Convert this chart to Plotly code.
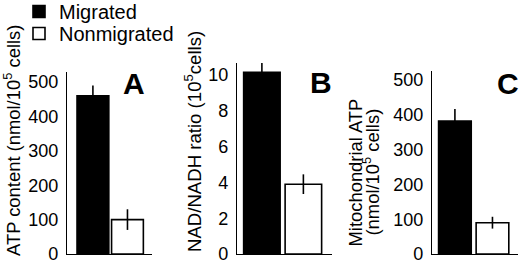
import plotly.graph_objects as go

W, H = 520, 268
OFF = 8            # figure is drawn OFF px taller and shifted up by OFF px on the page
HF = H + OFF

groups = ["Migrated", "Nonmigrated"]

# Panel A: ATP content (nmol/10^5 cells)
atp_values = [460, 100]
atp_errors = [30, 30]
# Panel B: NAD/NADH ratio
nad_values = [10.15, 3.9]
nad_errors = [0.55, 0.55]
# Panel C: Mitochondrial ATP (nmol/10^5 cells)
mito_values = [382, 90]
mito_errors = [35, 17]

atp_ticks = [0, 100, 200, 300, 400, 500]
nad_ticks = [0, 2, 4, 6, 8, 10]
mito_ticks = [0, 100, 200, 300, 400, 500]

FONT = "Liberation Sans, Arial, Helvetica, sans-serif"
fills = {"Migrated": "black", "Nonmigrated": "white"}
legend_ids = {"Migrated": "legend", "Nonmigrated": "legend2"}

def px_x(p):
    return p / W

def px_y(p):
    return 1 - (p + OFF) / HF

panels = [
    # values, errors, ticks, yrange top, x domain px, y domain px(top,bottom), xrange, barwidth
    (atp_values, atp_errors, atp_ticks, 529, (67, 152), (72, 254), [-0.75, 1.71], 0.92),
    (nad_values, nad_errors, nad_ticks, 10.67, (237, 332), (63, 254), [-0.60, 1.69], 0.88),
    (mito_values, mito_errors, mito_ticks, 526, (432, 518), (71, 254), [-0.61, 1.68], 0.87),
]

fig = go.Figure()
layout_axes = {}
for i, (vals, errs, ticks, ytop, xd, yd, xr, bw) in enumerate(panels):
    n = "" if i == 0 else str(i + 1)
    for j, g in enumerate(groups):
        fig.add_trace(go.Bar(
            x=[g], y=[vals[j]], name=g,
            xaxis="x" + n, yaxis="y" + n,
            width=bw,
            marker=dict(color=fills[g], line=dict(color="black", width=1.6)),
            error_y=dict(type="data", array=[errs[j]], color="black",
                         thickness=1.6, width=0),
            showlegend=(i == 0),
            legend=legend_ids[g],
        ))
    layout_axes["xaxis" + n] = dict(
        domain=[px_x(xd[0]), px_x(xd[1])], anchor="y" + n,
        type="category", categoryorder="array", categoryarray=groups,
        range=xr, showticklabels=False, ticks="", showgrid=False,
        zeroline=False, showline=True, linecolor="black", linewidth=1.3,
        fixedrange=True,
    )
    layout_axes["yaxis" + n] = dict(
        domain=[px_y(yd[1]), px_y(yd[0])], anchor="x" + n,
        range=[0, ytop], tickmode="array", tickvals=ticks,
        ticktext=[str(t) for t in ticks],
        tickfont=dict(family=FONT, size=18, color="black"),
        ticks="", ticklabelstandoff=4, showgrid=False, zeroline=False,
        showline=True, linecolor="black", linewidth=1.3, fixedrange=True,
    )

annotations = []
def ann(text, x, y, size, angle=0):
    annotations.append(dict(
        text=text, x=px_x(x), y=px_y(y), xref="paper", yref="paper",
        xanchor="center", yanchor="middle", showarrow=False,
        textangle=angle, font=dict(family=FONT, size=size, color="black"),
    ))

ann("<b>A</b>", 134, 84, 30)
ann("<b>B</b>", 321, 82, 30)
ann("<b>C</b>", 508, 83, 30)
ann("ATP content (nmol/10<sup>5</sup> cells)", 12, 141, 18.4, -90)
ann("NAD/NADH ratio (10<sup>5</sup>cells)", 193, 142, 18.6, -90)
ann("Mitochondrial ATP", 354.5, 173, 18.4, -90)
ann("(nmol/10<sup>5</sup> cells)", 371.5, 172, 18.4, -90)

leg_common = dict(xanchor="left", yanchor="top", bgcolor="rgba(0,0,0,0)",
                  borderwidth=0, font=dict(family=FONT, size=20, color="black"),
                  itemclick=False, itemdoubleclick=False)

fig.update_layout(
    width=W, height=HF,
    margin=dict(l=0, r=0, t=0, b=0, autoexpand=False),
    paper_bgcolor="white", plot_bgcolor="white",
    barmode="overlay",
    annotations=annotations,
    legend=dict(x=px_x(19), y=1.0, **leg_common),
    legend2=dict(x=px_x(19), y=1 - 22 / HF, **leg_common),
    **layout_axes,
)

fig.write_html(
    "out.html", config={"displayModeBar": False},
    post_script=("document.body.style.margin='0';"
                 "document.body.style.overflow='hidden';"
                 "document.body.style.marginTop='-%dpx';" % OFF),
)
